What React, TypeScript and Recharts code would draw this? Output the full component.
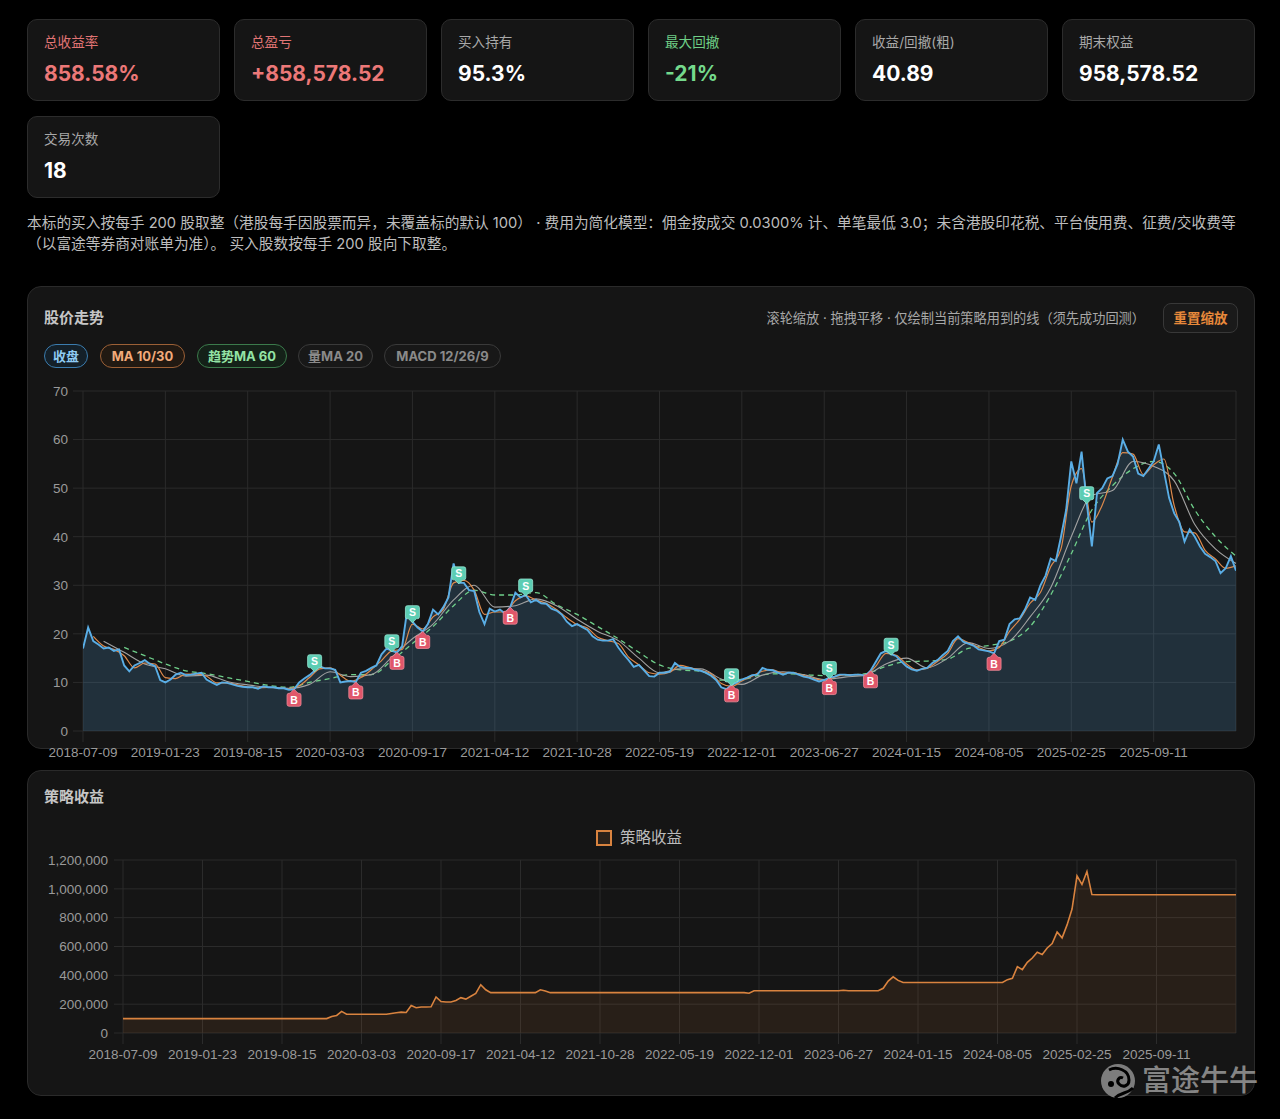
import React from 'react';
import { ComposedChart, Area, Line, Scatter, XAxis, YAxis, CartesianGrid } from 'recharts';

const FONT = "Inter, 'Noto Sans CJK SC', 'Noto Sans', sans-serif";
const AXFONT = "'Liberation Sans', Arial, sans-serif";

const tickLabels = ['2018-07-09', '2019-01-23', '2019-08-15', '2020-03-03', '2020-09-17', '2021-04-12', '2021-10-28', '2022-05-19', '2022-12-01', '2023-06-27', '2024-01-15', '2024-08-05', '2025-02-25', '2025-09-11'];
const tickIdx = tickLabels.map((_, k) => k * 16);

// close price, one sample per ~8 trading days (index 0..224)
const closes = [
  17.0, 21.3, 18.5, 17.8, 17.0, 17.2, 16.5, 16.8, 13.5, 12.3,
  13.5, 14.0, 14.6, 13.8, 13.4, 10.5, 10.0, 10.6, 11.6, 12.0,
  11.5, 11.6, 11.8, 12.0, 10.6, 10.0, 9.5, 10.0, 9.9, 9.6,
  9.3, 9.1, 9.0, 9.0, 8.7, 9.2, 9.0, 9.0, 8.8, 8.8,
  8.5, 8.6, 10.0, 10.8, 11.5, 12.4, 13.3, 12.9, 12.9, 12.6,
  10.0, 10.2, 10.3, 10.1, 12.0, 12.4, 13.0, 13.5, 15.8, 17.0,
  16.5, 16.2, 17.5, 25.0, 22.5, 21.3, 20.5, 22.0, 25.0, 24.0,
  25.5, 27.5, 34.5, 30.5, 30.5, 29.0, 28.8, 24.5, 22.0, 25.2,
  24.6, 25.0, 24.2, 25.5, 28.5, 27.5, 28.0, 26.5, 27.0, 26.3,
  26.2, 25.2, 24.8, 24.0, 22.5, 21.6, 22.0, 21.4, 20.8, 19.5,
  18.8, 18.6, 18.6, 18.9, 17.2, 15.8, 14.6, 13.2, 13.6, 12.5,
  11.3, 11.2, 12.0, 12.0, 12.2, 14.0, 13.2, 13.0, 13.0, 12.6,
  12.4, 12.0, 11.4, 10.5, 9.0, 8.6, 9.5, 10.0, 10.6, 11.0,
  11.5, 11.6, 13.0, 12.6, 12.5, 12.0, 11.6, 12.0, 12.0, 11.6,
  11.2, 11.0, 10.6, 10.2, 10.5, 11.0, 11.2, 11.6, 11.6, 11.5,
  11.6, 11.6, 11.4, 12.4, 14.2, 16.0, 16.5, 15.8, 15.4, 14.3,
  13.3, 12.7, 12.4, 12.8, 13.0, 14.0, 14.6, 15.6, 16.5, 18.5,
  19.5, 18.4, 18.0, 17.6, 16.8, 16.6, 16.4, 16.0, 18.5, 18.8,
  22.0, 23.0, 23.2, 25.0, 27.5, 27.0, 30.0, 32.0, 35.5, 35.0,
  40.0, 45.5, 55.5, 51.0, 57.5, 47.0, 38.0, 49.0, 50.0, 52.0,
  52.5, 55.0, 60.0, 57.5, 56.5, 53.0, 52.5, 54.0, 55.5, 59.0,
  53.5, 48.0, 44.8, 43.0, 39.0, 41.5, 40.0, 38.0, 36.5, 35.8,
  35.0, 32.5, 33.5, 36.0, 33.0,
];

// MA10 at index 2,4,...,224
const ma10Vals = [
  19.5, 17.5, 16.8, 15.5, 13.0, 14.0, 13.8, 11.0, 10.8, 11.7,
  11.7, 11.3, 9.9, 9.9, 9.5, 9.1, 8.9, 9.0, 8.9, 8.7,
  9.3, 11.0, 12.8, 13.0, 11.5, 10.2, 11.0, 12.6, 14.5, 16.5,
  16.8, 22.0, 21.0, 23.5, 25.0, 30.5, 31.0, 29.0, 24.0, 24.5,
  24.5, 26.8, 27.8, 27.0, 26.3, 25.0, 23.3, 21.9, 21.2, 19.3,
  18.6, 18.0, 15.2, 13.6, 12.0, 11.7, 12.1, 13.5, 13.0, 12.5,
  11.8, 9.8, 9.2, 10.3, 11.3, 12.3, 12.6, 11.9, 12.0, 11.4,
  10.8, 10.4, 11.1, 11.6, 11.6, 11.5, 13.3, 16.0, 15.6, 13.8,
  12.6, 12.9, 14.3, 16.0, 19.0, 18.2, 17.2, 16.5, 17.2, 20.5,
  23.0, 26.3, 28.5, 33.8, 37.5, 50.5, 54.0, 43.0, 46.5, 52.3,
  57.3, 57.0, 52.8, 54.8, 56.0, 46.4, 41.0, 40.8, 37.2, 35.4,
  33.5, 34.0,
];

// MA30 at index 4,8,...,224
const ma30Vals = [
  18.5, 16.2, 13.8, 12.8, 11.3, 11.5, 10.2, 9.5, 9.0, 8.8,
  9.6, 12.2, 11.2, 11.6, 15.2, 19.0, 22.0, 27.0, 30.0, 25.5,
  25.8, 27.2, 25.8, 23.0, 20.5, 18.6, 15.0, 12.0, 12.8, 12.8,
  10.7, 9.6, 11.5, 12.2, 11.6, 10.6, 11.1, 11.5, 13.8, 15.0,
  13.0, 15.0, 18.2, 17.0, 18.5, 23.5, 29.5, 40.0, 48.5, 49.5,
  55.5, 54.5, 51.5, 42.5, 37.5, 34.5,
];

// MA60 at index 8,12,...,224
const ma60Vals = [
  17.2, 15.5, 13.8, 12.4, 11.8, 11.0, 10.2, 9.4, 9.0, 10.0,
  10.8, 11.6, 11.6, 14.5, 18.0, 21.5, 25.8, 29.0, 28.0, 28.0,
  28.5, 26.0, 24.0, 21.5, 19.0, 16.2, 13.6, 12.6, 12.3, 10.5,
  10.6, 11.6, 11.8, 11.6, 11.4, 11.5, 11.8, 13.3, 14.3, 14.4,
  14.8, 17.0, 17.6, 18.5, 21.5, 28.0, 36.5, 45.5, 50.5, 54.0,
  55.5, 53.0, 45.5, 40.0, 36.0,
];

// strategy equity in thousands, index 0..224
const equityK = [
  100, 100, 100, 100, 100, 100, 100, 100, 100, 100,
  100, 100, 100, 100, 100, 100, 100, 100, 100, 100,
  100, 100, 100, 100, 100, 100, 100, 100, 100, 100,
  100, 100, 100, 100, 100, 100, 100, 100, 100, 100,
  100, 100, 115, 122, 150, 130, 130, 130, 130, 130,
  130, 130, 130, 130, 135, 140, 145, 142, 190, 175,
  180, 180, 182, 250, 218, 215, 215, 225, 245, 235,
  255, 275, 335, 300, 280, 280, 280, 280, 280, 280,
  280, 280, 280, 280, 300, 292, 280, 280, 280, 280,
  280, 280, 280, 280, 280, 280, 280, 280, 280, 280,
  280, 280, 280, 280, 280, 280, 280, 280, 280, 280,
  280, 280, 280, 280, 280, 280, 280, 280, 280, 280,
  280, 280, 280, 280, 280, 280, 276, 293, 293, 293,
  293, 293, 293, 293, 293, 293, 293, 293, 293, 293,
  293, 293, 293, 293, 293, 296, 293, 293, 293, 293,
  293, 293, 293, 310, 360, 390, 365, 350, 350, 350,
  350, 350, 350, 350, 350, 350, 350, 350, 350, 350,
  350, 350, 350, 350, 350, 350, 350, 350, 370, 380,
  460, 440, 490, 520, 560, 545, 590, 620, 700, 660,
  750, 860, 1090, 1030, 1120, 960, 958.6, 958.6, 958.6, 958.6,
  958.6, 958.6, 958.6, 958.6, 958.6, 958.6, 958.6, 958.6, 958.6, 958.6,
  958.6, 958.6, 958.6, 958.6, 958.6, 958.6, 958.6, 958.6, 958.6, 958.6,
  958.6, 958.6, 958.6, 958.6, 958.6,
];

const tradeIdx = [41, 45, 53, 60, 61, 64, 66, 73, 83, 86, 126, 126, 145, 145, 153, 157, 177, 195];
const tradeSide = ['B', 'S', 'B', 'S', 'B', 'S', 'B', 'S', 'B', 'S', 'B', 'S', 'B', 'S', 'B', 'S', 'B', 'S'];

const cardLabels = ['总收益率', '总盈亏', '买入持有', '最大回撤', '收益/回撤(粗)', '期末权益', '交易次数'];
const cardValues = ['858.58%', '+858,578.52', '95.3%', '-21%', '40.89', '958,578.52', '18'];
const cardLabelColors = ['#e07474', '#e07474', '#a8a8a8', '#6fcf86', '#a8a8a8', '#a8a8a8', '#a8a8a8'];
const cardValueColors = ['#ec7878', '#ec7878', '#ffffff', '#74d98c', '#ffffff', '#ffffff', '#ffffff'];

const noteLine1 = '本标的买入按每手 200 股取整（港股每手因股票而异，未覆盖标的默认 100） · 费用为简化模型：佣金按成交 0.0300% 计、单笔最低 3.0；未含港股印花税、平台使用费、征费/交收费等';
const noteLine2 = '（以富途等券商对账单为准）。 买入股数按每手 200 股向下取整。';

const pills = [
  { text: '收盘', left: 44, width: 44, border: '#3b7cae', color: '#8ecbf3', bg: '#142029' },
  { text: 'MA 10/30', left: 100, width: 85, border: '#9c6036', color: '#f2aa7a', bg: '#211912' },
  { text: '趋势MA 60', left: 197, width: 90, border: '#3b7a4b', color: '#93e3a4', bg: '#142118' },
  { text: '量MA 20', left: 298, width: 75, border: '#3a3a3a', color: '#8a8a8a', bg: '#181818' },
  { text: 'MACD 12/26/9', left: 384, width: 117, border: '#3a3a3a', color: '#8a8a8a', bg: '#181818' },
];

const priceData = closes.map((c, i) => ({
  i,
  close: c,
  ma10: i >= 2 && i % 2 === 0 ? ma10Vals[(i - 2) / 2] : undefined,
  ma30: i >= 4 && i % 4 === 0 ? ma30Vals[(i - 4) / 4] : undefined,
  ma60: i >= 8 && i % 4 === 0 ? ma60Vals[(i - 8) / 4] : undefined,
}));
const markerData = tradeIdx.map((idx, k) => ({ i: idx, v: closes[idx], t: tradeSide[k] }));
const equityData = equityK.map((e, i) => ({ i, eq: e * 1000 }));

const GRID = '#2b2b2b';
const tickStyle = { fill: '#9a9a9a', fontSize: 13.5, fontFamily: AXFONT };

const Marker = (props: any) => {
  const { cx, cy, payload } = props;
  if (cx == null || cy == null) return null;
  const isB = payload.t === 'B';
  const fill = isB ? '#e0566a' : '#5ccdb3';
  const stroke = isB ? '#f08a98' : '#95e6d2';
  if (isB) {
    const d = `M${cx},${cy} L${cx + 4},${cy + 4} L${cx + 5},${cy + 4} Q${cx + 7},${cy + 4} ${cx + 7},${cy + 6} L${cx + 7},${cy + 15} Q${cx + 7},${cy + 17} ${cx + 5},${cy + 17} L${cx - 5},${cy + 17} Q${cx - 7},${cy + 17} ${cx - 7},${cy + 15} L${cx - 7},${cy + 6} Q${cx - 7},${cy + 4} ${cx - 5},${cy + 4} L${cx - 4},${cy + 4} Z`;
    return (
      <g>
        <path d={d} fill={fill} stroke={stroke} strokeWidth={0.8} />
        <text x={cx} y={cy + 14.5} textAnchor="middle" fill="#fff" fontSize={10.5} fontWeight={700} fontFamily={AXFONT}>B</text>
      </g>
    );
  }
  const d = `M${cx},${cy + 1} L${cx - 4},${cy - 3} L${cx - 5},${cy - 3} Q${cx - 7},${cy - 3} ${cx - 7},${cy - 5} L${cx - 7},${cy - 14} Q${cx - 7},${cy - 16} ${cx - 5},${cy - 16} L${cx + 5},${cy - 16} Q${cx + 7},${cy - 16} ${cx + 7},${cy - 14} L${cx + 7},${cy - 5} Q${cx + 7},${cy - 3} ${cx + 5},${cy - 3} L${cx + 4},${cy - 3} Z`;
  return (
    <g>
      <path d={d} fill={fill} stroke={stroke} strokeWidth={0.8} />
      <text x={cx} y={cy - 5.5} textAnchor="middle" fill="#fff" fontSize={10.5} fontWeight={700} fontFamily={AXFONT}>S</text>
    </g>
  );
};

const fmtTick = (v: number) => {
  const k = Math.round(v / 16);
  return tickLabels[k] ?? '';
};

function Card({ k, left, top }: { k: number; left: number; top: number }) {
  return (
    <div style={{ position: 'absolute', left, top, width: 193, height: 82, boxSizing: 'border-box', background: '#151515', border: '1px solid #2c2c2c', borderRadius: 10 }}>
      <div style={{ position: 'absolute', left: 16, top: 13, fontSize: 13.6, lineHeight: '18px', color: cardLabelColors[k], whiteSpace: 'nowrap' }}>{cardLabels[k]}</div>
      <div style={{ position: 'absolute', left: 16, top: 40, fontSize: 21, lineHeight: '28px', fontWeight: 700, color: cardValueColors[k], whiteSpace: 'nowrap' }}>{cardValues[k]}</div>
    </div>
  );
}

export default function App() {
  return (
    <div style={{ position: 'absolute', left: 0, top: 0, width: 1280, height: 1119, background: '#000', overflow: 'hidden', fontFamily: FONT }}>
      {[0, 1, 2, 3, 4, 5].map((k) => (
        <Card key={k} k={k} left={27 + 207 * k} top={19} />
      ))}
      <Card k={6} left={27} top={116} />

      <div style={{ position: 'absolute', left: 27, top: 213, fontSize: 14.7, lineHeight: '21px', color: '#bdbdbd', whiteSpace: 'nowrap' }}>{noteLine1}</div>
      <div style={{ position: 'absolute', left: 27, top: 234, fontSize: 14.7, lineHeight: '21px', color: '#bdbdbd', whiteSpace: 'nowrap' }}>{noteLine2}</div>

      {/* price panel */}
      <div style={{ position: 'absolute', left: 27, top: 286, width: 1228, height: 463, boxSizing: 'border-box', background: '#151515', border: '1px solid #2a2a2a', borderRadius: 14 }} />
      <div style={{ position: 'absolute', left: 44, top: 307, fontSize: 15, lineHeight: '22px', fontWeight: 600, color: '#c6c6c6' }}>股价走势</div>
      <div style={{ position: 'absolute', right: 135, top: 308, fontSize: 13.2, lineHeight: '20px', color: '#a8a8a8', whiteSpace: 'nowrap' }}>滚轮缩放 · 拖拽平移 · 仅绘制当前策略用到的线（须先成功回测）</div>
      <div style={{ position: 'absolute', left: 1163, top: 303, width: 75, height: 30, boxSizing: 'border-box', border: '1px solid #383838', borderRadius: 8, background: '#1a1a1a', color: '#e8893a', fontSize: 13.5, fontWeight: 700, lineHeight: '28px', textAlign: 'center' }}>重置缩放</div>
      {pills.map((p) => (
        <div key={p.text} style={{ position: 'absolute', left: p.left, top: 344, width: p.width, height: 24, boxSizing: 'border-box', border: `1px solid ${p.border}`, borderRadius: 12, background: p.bg, color: p.color, fontSize: 13, fontWeight: 700, lineHeight: '22px', textAlign: 'center', whiteSpace: 'nowrap' }}>{p.text}</div>
      ))}

      <div style={{ position: 'absolute', left: 27, top: 380 }}>
        <ComposedChart width={1228} height={400} data={priceData} margin={{ top: 11, right: 19, bottom: 19, left: 0 }}>
          <CartesianGrid stroke={GRID} strokeWidth={1} />
          <XAxis dataKey="i" type="number" domain={[0, 224]} ticks={tickIdx} interval={0} tickFormatter={fmtTick} tick={tickStyle} tickLine={{ stroke: GRID }} tickSize={11} tickMargin={5} axisLine={false} height={30} allowDataOverflow />
          <YAxis type="number" domain={[0, 70]} ticks={[0, 10, 20, 30, 40, 50, 60, 70]} interval={0} tick={tickStyle} tickLine={{ stroke: GRID }} tickSize={10} tickMargin={5} axisLine={false} width={56} />
          <Area dataKey="close" type="linear" stroke="none" fill="rgba(90,174,232,0.18)" fillOpacity={1} isAnimationActive={false} dot={false} activeDot={false} />
          <Line dataKey="ma60" type="monotone" stroke="#6fcf8a" strokeWidth={1.3} strokeDasharray="5 4" dot={false} activeDot={false} connectNulls isAnimationActive={false} />
          <Line dataKey="ma30" type="monotone" stroke="#a2a2a2" strokeWidth={1.1} dot={false} activeDot={false} connectNulls isAnimationActive={false} />
          <Line dataKey="ma10" type="monotone" stroke="#de8a4c" strokeWidth={1.2} dot={false} activeDot={false} connectNulls isAnimationActive={false} />
          <Line dataKey="close" type="linear" stroke="#5aaee6" strokeWidth={1.9} dot={false} activeDot={false} isAnimationActive={false} />
          <Scatter data={markerData} dataKey="v" shape={Marker} isAnimationActive={false} />
        </ComposedChart>
      </div>

      {/* equity panel */}
      <div style={{ position: 'absolute', left: 27, top: 770, width: 1228, height: 326, boxSizing: 'border-box', background: '#151515', border: '1px solid #2a2a2a', borderRadius: 14 }} />
      <div style={{ position: 'absolute', left: 44, top: 786, fontSize: 15, lineHeight: '22px', fontWeight: 600, color: '#c6c6c6' }}>策略收益</div>
      <div style={{ position: 'absolute', left: 596, top: 830, width: 16, height: 16, boxSizing: 'border-box', border: '2px solid #d9833f', background: 'rgba(217,131,63,0.12)' }} />
      <div style={{ position: 'absolute', left: 620, top: 827, fontSize: 15.5, lineHeight: '22px', color: '#bcbcbc' }}>策略收益</div>

      <div style={{ position: 'absolute', left: 27, top: 850 }}>
        <ComposedChart width={1228} height={215} data={equityData} margin={{ top: 10, right: 19, bottom: 7, left: 0 }}>
          <CartesianGrid stroke={GRID} strokeWidth={1} />
          <XAxis dataKey="i" type="number" domain={[0, 224]} ticks={tickIdx} interval={0} tickFormatter={fmtTick} tick={tickStyle} tickLine={{ stroke: GRID }} tickSize={11} tickMargin={5} axisLine={false} height={25} allowDataOverflow />
          <YAxis type="number" domain={[0, 1200000]} ticks={[0, 200000, 400000, 600000, 800000, 1000000, 1200000]} interval={0} tickFormatter={(v: number) => v.toLocaleString('en-US')} tick={tickStyle} tickLine={{ stroke: GRID }} tickSize={9} tickMargin={6} axisLine={false} width={96} />
          <Area dataKey="eq" type="linear" stroke="#d9833f" strokeWidth={1.6} fill="rgba(217,131,63,0.10)" fillOpacity={1} dot={false} activeDot={false} isAnimationActive={false} />
        </ComposedChart>
      </div>

      {/* watermark */}
      <svg style={{ position: 'absolute', left: 1099, top: 1062 }} width={40} height={40} viewBox="0 0 40 40">
        <circle cx={19} cy={19} r={17} fill="#7d7d7d" />
        <path d="M10,8 C18,4 30,8 30,18 C30,24 24,26 20,22 C17,19 20,14 24,16" fill="none" stroke="#000" strokeWidth={3} />
        <circle cx={12} cy={22} r={3} fill="#000" />
        <path d="M16,36 C22,30 28,32 34,26" fill="none" stroke="#000" strokeWidth={3} />
      </svg>
      <div style={{ position: 'absolute', left: 1142, top: 1063, fontSize: 29, lineHeight: '36px', color: '#858585', fontWeight: 500, whiteSpace: 'nowrap' }}>富途牛牛</div>
    </div>
  );
}
